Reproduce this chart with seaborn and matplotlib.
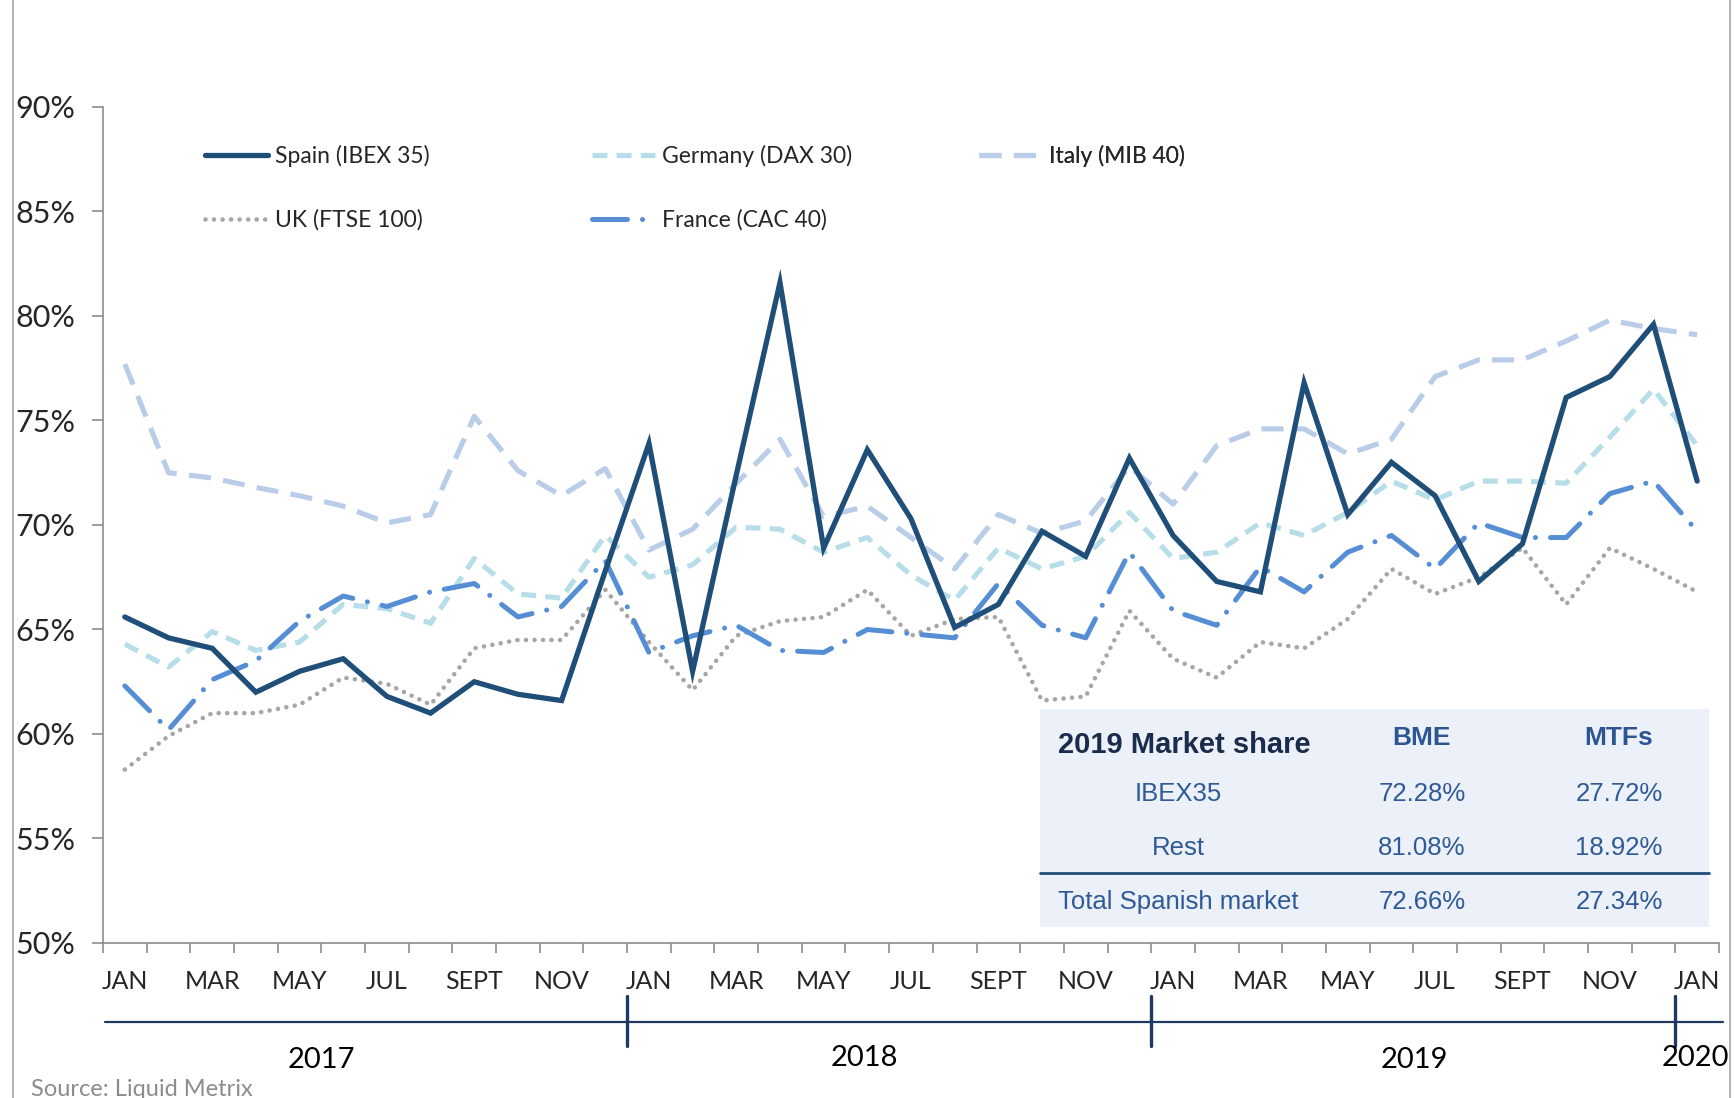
import matplotlib
matplotlib.use("Agg")
import matplotlib.pyplot as plt
from matplotlib.lines import Line2D
from matplotlib.patches import Rectangle
import pandas as pd
import seaborn as sns

# monthly share of trading, Jan 2017 .. Jan 2020
MONTHS = ["JAN", "FEB", "MAR", "APR", "MAY", "JUN",
          "JUL", "AUG", "SEPT", "OCT", "NOV", "DEC"]
month_labels = MONTHS * 3 + ["JAN"]
years = ["2017", "2018", "2019", "2020"]

spain = [65.6, 64.6, 64.1, 62.0, 63.0, 63.6, 61.8, 61.0, 62.5, 61.9, 61.6, 67.8,
         73.9, 63.0, 72.4, 81.6, 68.9, 73.6, 70.3, 65.1, 66.2, 69.7, 68.5, 73.2,
         69.5, 67.3, 66.8, 76.8, 70.5, 73.0, 71.4, 67.3, 69.1, 76.1, 77.1, 79.6,
         72.1]
germany = [64.3, 63.2, 64.9, 64.0, 64.4, 66.2, 66.0, 65.3, 68.4, 66.7, 66.5, 69.5,
           67.5, 68.1, 69.9, 69.8, 68.7, 69.4, 67.6, 66.4, 68.9, 67.9, 68.5, 70.6,
           68.4, 68.7, 70.1, 69.5, 70.6, 72.1, 71.2, 72.1, 72.1, 72.0, 74.2, 76.5,
           73.8]
italy = [77.7, 72.5, 72.25, 71.8, 71.4, 70.9, 70.1, 70.5, 75.2, 72.6, 71.4, 72.7,
         68.8, 69.8, 72.0, 74.1, 70.4, 70.9, 69.4, 67.9, 70.5, 69.6, 70.2, 72.8,
         71.0, 73.8, 74.6, 74.6, 73.4, 74.1, 77.1, 77.9, 77.9, 78.8, 79.8, 79.4,
         79.1]
uk = [58.3, 59.9, 61.0, 61.0, 61.4, 62.7, 62.4, 61.4, 64.1, 64.5, 64.5, 66.9,
      64.4, 62.1, 64.7, 65.4, 65.6, 66.9, 64.7, 65.5, 65.6, 61.6, 61.8, 65.9,
      63.6, 62.7, 64.4, 64.1, 65.5, 67.9, 66.7, 67.5, 68.9, 66.2, 68.9, 67.9,
      66.8]
france = [62.3, 60.2, 62.6, 63.5, 65.4, 66.6, 66.1, 66.8, 67.2, 65.6, 66.1, 68.3,
          63.9, 64.7, 65.2, 64.0, 63.9, 65.0, 64.8, 64.6, 67.2, 65.2, 64.6, 68.7,
          65.9, 65.2, 68.0, 66.8, 68.7, 69.5, 67.9, 70.1, 69.4, 69.4, 71.5, 72.1,
          69.7]

# 2019 market share table
table_title = "2019 Market share"
table_cols = ["BME", "MTFs"]
table_rows = ["IBEX35", "Rest", "Total Spanish market"]
bme_share = ["72.28%", "81.08%", "72.66%"]
mtf_share = ["27.72%", "18.92%", "27.34%"]

series = {
    "Spain (IBEX 35)": spain,
    "Germany (DAX 30)": germany,
    "Italy (MIB 40)": italy,
    "UK (FTSE 100)": uk,
    "France (CAC 40)": france,
}
styles = {
    "Spain (IBEX 35)": dict(color="#1F4E79", lw=3.8, ls="-"),
    "Germany (DAX 30)": dict(color="#B7DEE8", lw=3.7, ls=(0, (2.9, 1.8))),
    "Italy (MIB 40)": dict(color="#B9CDE8", lw=3.7, ls=(0, (4.3, 2.4))),
    "UK (FTSE 100)": dict(color="#A6A6A6", lw=3.3, ls=(0, (0.01, 1.85)),
                          dash_capstyle="round"),
    "France (CAC 40)": dict(color="#558ED5", lw=3.6, ls=(0, (7.0, 3.0, 0.01, 3.0)),
                            dash_capstyle="round"),
}

rows = []
for name, vals in series.items():
    for i, v in enumerate(vals):
        rows.append({"series": name, "month": i, "share": v})
df = pd.DataFrame(rows)

sns.set_style("ticks")
plt.rcParams["font.family"] = ["Lato", "DejaVu Sans"]

W, H = 1734, 1098
fig = plt.figure(figsize=(W / 100, H / 100), dpi=100)
ax_l, ax_r, ax_t, ax_b = 103, 1719, 107, 943
ax = fig.add_axes([ax_l / W, 1 - ax_b / H, (ax_r - ax_l) / W, (ax_b - ax_t) / H])

draw_order = ["Italy (MIB 40)", "Germany (DAX 30)", "UK (FTSE 100)",
              "France (CAC 40)", "Spain (IBEX 35)"]
for name in draw_order:
    st = dict(styles[name])
    sub = df[df["series"] == name]
    sns.lineplot(data=sub, x="month", y="share", ax=ax, color=st.pop("color"),
                 linewidth=st.pop("lw"), linestyle=st.pop("ls"), legend=False,
                 solid_joinstyle="miter", **st)

ax.set_xlim(-0.5, len(month_labels) - 0.5)
ax.set_ylim(50, 90)
ax.set_xlabel("")
ax.set_ylabel("")
ax.set_yticks(range(50, 91, 5))
ax.set_yticklabels([f"{v}%" for v in range(50, 91, 5)], fontsize=22)
ax.set_xticks(range(0, len(month_labels), 2))
ax.set_xticklabels(month_labels[::2], fontsize=18)
ax.set_xticks([i - 0.5 for i in range(len(month_labels) + 1)], minor=True)
ax.tick_params(axis="x", which="major", length=0, pad=19.5)
ax.tick_params(axis="x", which="minor", length=7, width=1.2, color="#8C8C8C")
ax.tick_params(axis="y", length=8, width=1.2, color="#8C8C8C", pad=12)
for s in ["top", "right"]:
    ax.spines[s].set_visible(False)
for s in ["left", "bottom"]:
    ax.spines[s].set_color("#8C8C8C")
    ax.spines[s].set_linewidth(1.2)

# legend: three columns drawn as separate legends
def handle(name):
    st = styles[name]
    return Line2D([], [], color=st["color"], lw=st["lw"], ls=st["ls"],
                  dash_capstyle=st.get("dash_capstyle", "butt"))

columns = [["Spain (IBEX 35)", "UK (FTSE 100)"],
           ["Germany (DAX 30)", "France (CAC 40)"],
           ["Italy (MIB 40)"]]
col_x = [0.063, 0.3026, 0.542]
for names, x in zip(columns, col_x):
    leg = ax.legend([handle(n) for n in names], names, loc="upper left",
                    bbox_to_anchor=(x, 0.955), frameon=False, fontsize=16.5,
                    handlelength=2.75, handletextpad=0.3, labelspacing=1.85,
                    borderpad=0, borderaxespad=0)
    ax.add_artist(leg)

# year axis under the month labels
xt = ax.get_xaxis_transform()
navy = "#1F3864"
ax.plot([-0.45, 36.6], [-0.094, -0.094], transform=xt, color=navy, lw=1.6,
        clip_on=False)
for xb in [11.5, 23.5, 35.5]:
    ax.plot([xb, xb], [-0.063, -0.123], transform=xt, color=navy, lw=2.4,
            clip_on=False)
year_x = [4.5, 16.94, 29.52, 35.95]
year_y = [-0.140, -0.137, -0.140, -0.137]
for yr, x, y in zip(years, year_x, year_y):
    ax.text(x, y, yr, transform=xt, ha="center", va="center", fontsize=21,
            color="black")

# market share table
tx0, tx1, ty0, ty1 = 1040, 1709, 709, 927
fig.add_artist(Rectangle((tx0 / W, 1 - ty1 / H), (tx1 - tx0) / W, (ty1 - ty0) / H,
                         transform=fig.transFigure, facecolor="#ECF0F8",
                         edgecolor="none", zorder=5))
fig.add_artist(Line2D([tx0 / W, tx1 / W], [1 - 873 / H] * 2,
                      transform=fig.transFigure, color="#1F4E79", lw=2.0,
                      zorder=6))
tfont = "Liberation Sans"
c0, c1, c2 = 1178, 1422, 1619
fig.text(1184 / W, 1 - 745 / H, table_title, ha="center", va="center",
         fontsize=21, fontweight="bold", color="#1A2C4C", family=tfont, zorder=7)
for cx, lab in zip([c1, c2], table_cols):
    fig.text(cx / W, 1 - 738 / H, lab, ha="center", va="center", fontsize=19,
             fontweight="bold", color="#2D5592", family=tfont, zorder=7)
row_y = [794, 848, 902]
for lab, b, m, ry in zip(table_rows, bme_share, mtf_share, row_y):
    for cx, txt in zip([c0, c1, c2], [lab, b, m]):
        fig.text(cx / W, 1 - ry / H, txt, ha="center", va="center", fontsize=18.5,
                 color="#2F5A96", family=tfont, zorder=7)

# chart frame lines and source note
for fx in [13, 1730]:
    fig.add_artist(Line2D([fx / W, fx / W], [0, 1], transform=fig.transFigure,
                          color="#A6A6A6", lw=1.2))
fig.text(31 / W, 1 - 1089 / H, "Source: Liquid Metrix", ha="left", va="center",
         fontsize=17, color="#8C8C8C")

fig.savefig("out.png", dpi=100)
plt.close(fig)
